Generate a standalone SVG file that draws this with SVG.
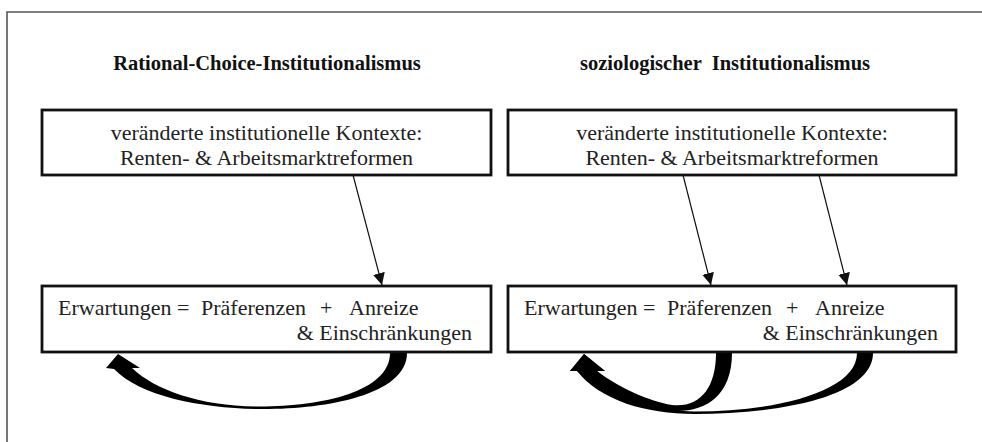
<svg xmlns="http://www.w3.org/2000/svg" width="982" height="442" viewBox="0 0 982 442">
<style>
.frame{fill:none;stroke:#555;stroke-width:1.6}
.box{fill:#fff;stroke:#111;stroke-width:2.8}
text{font-family:'Liberation Serif','Times New Roman','DejaVu Serif',serif}
.title{font-size:20.5px;font-weight:bold;fill:#111}
.txt{font-size:22px;fill:#222}
.conn{stroke:#111;stroke-width:1.2;fill:none}
.big{fill:#000;stroke:none}
</style>
<defs>
<marker id="ah" markerWidth="12" markerHeight="12" refX="10" refY="5" orient="auto" markerUnits="userSpaceOnUse" viewBox="0 0 10 10">
<path d="M0,0 L10,5 L0,10 Z" fill="#111"/>
</marker>
</defs>
<path class="frame" d="M7,442 L7,12 L982,12"/>
<g id="title-left"><text class="title" x="267" y="70" text-anchor="middle">Rational-Choice-Institutionalismus</text></g>
<g id="title-right"><text class="title" x="725" y="70" text-anchor="middle" xml:space="preserve">soziologischer  Institutionalismus</text></g>
<g id="ctx-left">
<rect class="box" x="42" y="110" width="449" height="65"/>
<text class="txt" x="266.5" y="140" text-anchor="middle">veränderte institutionelle Kontexte:</text>
<text class="txt" x="266.5" y="165" text-anchor="middle">Renten- &amp; Arbeitsmarktreformen</text>
</g>
<g id="ctx-right">
<rect class="box" x="508" y="110" width="448" height="65"/>
<text class="txt" x="732" y="140" text-anchor="middle">veränderte institutionelle Kontexte:</text>
<text class="txt" x="732" y="165" text-anchor="middle">Renten- &amp; Arbeitsmarktreformen</text>
</g>
<g id="exp-left">
<rect class="box" x="42" y="286" width="449" height="66"/>
<text class="txt" y="315"><tspan x="58">Erwartungen =</tspan><tspan x="201">Präferenzen</tspan><tspan x="320">+</tspan><tspan x="349">Anreize</tspan></text>
<text class="txt" x="472" y="340" text-anchor="end">&amp; Einschränkungen</text>
</g>
<g id="exp-right">
<rect class="box" x="508" y="286" width="448" height="66"/>
<text class="txt" y="315"><tspan x="524">Erwartungen =</tspan><tspan x="667">Präferenzen</tspan><tspan x="786">+</tspan><tspan x="815">Anreize</tspan></text>
<text class="txt" x="938" y="340" text-anchor="end">&amp; Einschränkungen</text>
</g>
<g id="connectors">
<line class="conn" x1="353" y1="175" x2="382" y2="285" marker-end="url(#ah)"/>
<line class="conn" x1="683" y1="175" x2="711" y2="285" marker-end="url(#ah)"/>
<line class="conn" x1="819" y1="175" x2="847" y2="285" marker-end="url(#ah)"/>
<path class="big" d="M407,353 C407,396 322,410 257,409 C200,408 140,396 114,369 L106,368 L118,354 L140,368 L132,368 C155,390 200,406 257,406.5 C320,407 390,392 390,353 Z"/>
<path class="big" d="M873,353 C873,398 775,414 695,414 C645,414 600,400 577,371 L570,371 L584,354 L605,371 L597,371 C622,397 655,411.5 695,411.5 C775,411.5 857,392 857,353 Z"/>
<path class="big" d="M732,353 C732,396 705,412 675,411 C645,410 605,393 577,371 L570,371 L584,354 L605,371 L597,371 C618,387 648,401 672,405 C700,408 716,388 716,353 Z"/>
</g>
</svg>
